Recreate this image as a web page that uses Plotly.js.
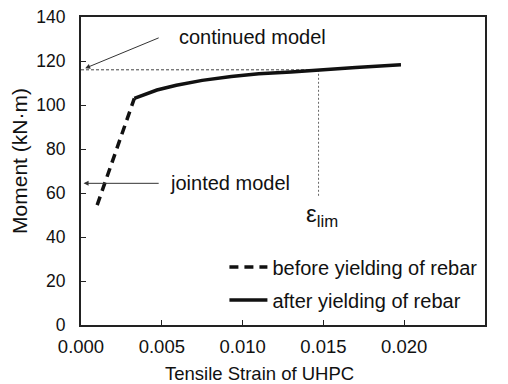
<!DOCTYPE html>
<html>
<head>
<meta charset="utf-8">
<script src="https://cdn.plot.ly/plotly-3.0.1.min.js"></script>
<style>html,body{margin:0;padding:0;background:#fff;}#chart{width:508px;height:384px;}</style>
</head>
<body>
<div id="chart"></div>
<script>
// Data
const beforeStrain = [0.0010, 0.0033];
const beforeMoment = [54.5, 103];
const afterStrain = [0.0033, 0.0040, 0.0047, 0.0059, 0.0075, 0.0093, 0.0110, 0.0130, 0.0147, 0.0170, 0.0198];
const afterMoment = [103, 105, 106.8, 109, 111.2, 113, 114.2, 115, 116, 117, 118.3];
const limStrain = 0.0147;
const limMoment = 116;
const limLowMoment = 58;
const xTicks = [0, 0.005, 0.010, 0.015, 0.020, 0.025];
const xTickLabels = ["0.000", "0.005", "0.010", "0.015", "0.020", "0.025"];
const yTicks = [0, 20, 40, 60, 80, 100, 120, 140];
const seriesNames = ["before yielding of rebar", "after yielding of rebar"];

const FONT = "Liberation Sans, Arial, sans-serif";
const TXT = "#111";

const traces = [
  {x: [0, limStrain], y: [limMoment, limMoment], mode: "lines", showlegend: false, hoverinfo: "skip",
   line: {color: "#444", width: 1, dash: "3px,2px"}},
  {x: [limStrain, limStrain], y: [limMoment, limLowMoment], mode: "lines", showlegend: false, hoverinfo: "skip",
   line: {color: "#666", width: 1, dash: "2px,2px"}},
  {x: beforeStrain, y: beforeMoment, mode: "lines", name: seriesNames[0], legendgroup: "a",
   line: {color: "#111", width: 3.5, dash: "9px,6px"}},
  {x: afterStrain, y: afterMoment, mode: "lines", name: seriesNames[1], legendgroup: "b",
   line: {color: "#111", width: 3.5}}
];

const layout = {
  width: 508, height: 384,
  margin: {l: 81, r: 23, t: 17, b: 59, pad: 0},
  paper_bgcolor: "#fff", plot_bgcolor: "#fff",
  font: {family: FONT, size: 17, color: TXT},
  showlegend: true,
  legend: {x: 0.355, y: 0.252, xanchor: "left", yanchor: "top", bgcolor: "rgba(0,0,0,0)",
           font: {family: FONT, size: 20, color: TXT}, traceorder: "grouped", tracegroupgap: 4,
           itemwidth: 38},
  xaxis: {range: [0, 0.025], tickvals: xTicks, ticktext: xTickLabels, ticks: "inside", ticklen: 5,
          tickcolor: "#222", tickwidth: 1, showgrid: false, zeroline: false, showline: true,
          linecolor: "#222", linewidth: 2, mirror: true, tickfont: {family: FONT, size: 18.5, color: TXT},
          ticklabelstandoff: 4, fixedrange: true},
  yaxis: {range: [0, 140], tickvals: yTicks, ticks: "inside", ticklen: 5,
          tickcolor: "#222", tickwidth: 1, showgrid: false, zeroline: false, showline: true,
          linecolor: "#222", linewidth: 2, mirror: true, tickfont: {family: FONT, size: 17.5, color: TXT},
          ticklabelstandoff: 10, fixedrange: true},
  annotations: [
    {xref: "paper", yref: "paper", x: 0.443, y: -0.156, text: "Tensile Strain of UHPC", showarrow: false,
     font: {family: FONT, size: 18.5, color: TXT}, xanchor: "center", yanchor: "middle"},
    {xref: "paper", yref: "paper", x: -0.154, y: 0.532, text: "Moment (kN·m)", showarrow: false, textangle: -90,
     font: {family: FONT, size: 21, color: TXT}, xanchor: "center", yanchor: "middle"},
    {x: 0.00026, y: 116.7, ax: 0.0049, ay: 130.8, axref: "x", ayref: "y", text: "", showarrow: true,
     arrowhead: 2, arrowsize: 1, arrowwidth: 1, arrowcolor: "#333"},
    {x: 0.0106, y: 130.8, text: "continued model", showarrow: false, font: {family: FONT, size: 20, color: TXT}},
    {x: 0.00016, y: 64.4, ax: 0.0049, ay: 64.4, axref: "x", ayref: "y", text: "", showarrow: true,
     arrowhead: 2, arrowsize: 1, arrowwidth: 1, arrowcolor: "#333"},
    {x: 0.0092, y: 64.4, text: "jointed model", showarrow: false, font: {family: FONT, size: 20, color: TXT}},
    {x: 0.0149, y: 50, text: "ε<sub>lim</sub>", showarrow: false, font: {family: FONT, size: 24, color: TXT}}
  ]
};

Plotly.newPlot("chart", traces, layout, {displayModeBar: false, staticPlot: true});
</script>
</body>
</html>
